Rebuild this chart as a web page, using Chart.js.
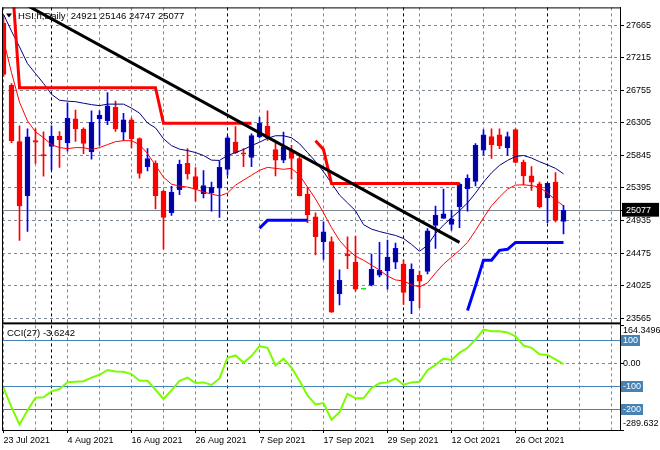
<!DOCTYPE html>
<html>
<head>
<meta charset="utf-8">
<title>HSI.h Daily</title>
<script src="https://cdn.jsdelivr.net/npm/chart.js@4.4.0/dist/chart.umd.min.js"></script>
<style>
  html, body { margin: 0; padding: 0; background: #fff; }
  canvas { display: block; }
</style>
</head>
<body>
<canvas id="chart" width="660" height="450"></canvas>
<script>
// bar 0 = 23 Jul 2021, bar 70 = 3 Nov 2021
const opens = [27693, 26823, 26036, 25277, 26050, 25857, 25971, 26115, 26018, 26354,
  26211, 25894, 26354, 26330, 26515, 26170, 26340, 26078, 25687, 25732,
  25342, 25042, 25364, 25732, 25549, 25308, 25318, 25387, 25649, 26032,
  25880, 25815, 26101, 26253, 25925, 25778, 25907, 25801, 25304, 24987,
  24638, 24638, 23906, 24466, 24352, 23975, 24030, 24168, 24228, 24352,
  24324, 23809, 24168, 24223, 24867, 24963, 24881, 25125, 25377, 25480,
  25916, 26109, 26133, 25949, 26206, 25746, 25557, 25447, 25249, 25470,
  24921];
const highs = [27803, 26850, 26257, 26215, 26215, 26174, 26257, 26178, 26579, 26478,
  26229, 26468, 26468, 26722, 26602, 26432, 26367, 26090, 25939, 25770,
  25355, 25411, 25778, 25939, 25673, 25632, 25470, 25764, 26115, 26247,
  25939, 26146, 26377, 26468, 26018, 26170, 25985, 25830, 25397, 25042,
  24914, 24707, 24245, 24707, 24711, 23975, 24466, 24628, 24660, 24618,
  24379, 24329, 24228, 24821, 25135, 25373, 25079, 25456, 25571, 26008,
  26202, 26215, 26215, 26170, 26215, 25778, 25687, 25470, 25456, 25604,
  25146];
const lows = [26947, 26022, 24655, 24780, 25732, 25553, 25640, 25677, 25902, 26040,
  25870, 25792, 25985, 26275, 26178, 26054, 25949, 25525, 25626, 25097,
  24535, 25005, 25295, 25511, 25204, 25249, 25065, 24977, 25567, 25870,
  25687, 25687, 26087, 26054, 25557, 25742, 25511, 25277, 24904, 24453,
  24389, 23648, 23754, 24259, 23947, 23975, 24020, 24145, 23975, 24259,
  23762, 23630, 23717, 24186, 24545, 24963, 24798, 24835, 25065, 25419,
  25847, 25801, 25939, 25839, 25742, 25433, 25355, 25111, 24904, 24914,
  24747];
const closes = [26975, 26050, 25139, 26105, 26029, 25836, 26115, 26064, 26363, 26215,
  26013, 26308, 26409, 26537, 26215, 26340, 26078, 25594, 25801, 25281,
  24977, 25332, 25718, 25585, 25373, 25424, 25397, 25677, 26091, 25884,
  25861, 26123, 26294, 26087, 25778, 25963, 25801, 25281, 25014, 24707,
  24776, 23652, 24099, 24439, 23975, 23975, 24251, 24237, 24421, 24545,
  23928, 24251, 24085, 24789, 25010, 25028, 24959, 25442, 25525, 25985,
  26133, 25995, 25981, 26109, 25746, 25557, 25470, 25125, 25456, 24936,
  25077];

// moving averages (red fast, navy slow)
const maFast = [27458, 27002, 26588, 26326, 26174, 26091, 25995, 25953, 25939, 25953,
  25953, 25926, 25953, 25995, 26036, 26050, 26050, 25995, 25870, 25705,
  25539, 25442, 25415, 25401, 25373, 25332, 25304, 25277, 25318, 25429,
  25498, 25567, 25636, 25677, 25663, 25650, 25663, 25567, 25401, 25235,
  25042, 24835, 24655, 24531, 24435, 24379, 24310, 24241, 24158, 24103,
  24089, 24034, 24007, 24062, 24200, 24324, 24421, 24517, 24628, 24794,
  24973, 25139, 25263, 25373, 25429, 25433, 25422, 25401, 25318, 25222,
  25139];
const maSlow = [27817, 27582, 27361, 27127, 26989, 26851, 26699, 26616, 26602, 26595,
  26574, 26554, 26540, 26561, 26561, 26561, 26505, 26436, 26298, 26229,
  26077, 25981, 25932, 25912, 25884, 25843, 25778, 25774, 25843, 25884,
  25926, 25981, 26029, 26084, 26119, 26119, 26091, 26008, 25884, 25760,
  25615, 25456, 25291, 25180, 25070, 24876, 24814, 24780, 24752, 24725,
  24683, 24600, 24504, 24587, 24752, 24870, 24973, 25070, 25180, 25318,
  25470, 25601, 25705, 25774, 25829, 25843, 25808, 25756, 25712, 25663,
  25587];

// trailing stop lines
const stopRed = [null, 28400, 26791, 26791, 26791, 26791, 26791, 26791, 26791, 26791,
  26791, 26791, 26791, 26791, 26791, 26791, 26791, 26791, 26791, 26791,
  26294, 26294, 26294, 26294, 26294, 26294, 26294, 26294, 26294, 26294,
  26294, 26294, null, null, null, null, null, null, null, 26050,
  25926, 25450, 25450, 25450, 25450, 25450, 25450, 25450, 25450, 25450,
  25450, 25450, 25450, 25450, 25450, 25450, 25450, 25450, null, null,
  null, null, null, null, null, null, null, null, null, null,
  null];
const stopBlue = [null, null, null, null, null, null, null, null, null, null,
  null, null, null, null, null, null, null, null, null, null,
  null, null, null, null, null, null, null, null, null, null,
  null, null, 24825, 24936, 24936, 24936, 24936, 24936, 24936, null,
  null, null, null, null, null, null, null, null, null, null,
  null, null, null, null, null, null, null, null, 23675, 24020,
  24380, 24380, 24517, 24531, 24628, 24628, 24628, 24628, 24628, 24628,
  24628];

// hand drawn trend line (two anchors)
const trendBars = [0, 57];
const trendPrices = [28122, 24628];

const cci = [-107, -190, -266, -205, -150, -148, -122, -112, -82, -80,
  -78, -62, -50, -29, -36, -37, -47, -76, -76, -115,
  -155, -118, -76, -62, -86, -83, -94, -66, 24, 34,
  3, 31, 74, 67, -9, 20, -19, -76, -140, -179,
  -173, -245, -212, -133, -152, -152, -107, -87, -83, -66,
  -93, -83, -80, -30, -7, 20, 14, 45, 67, 103,
  146, 139, 139, 134, 117, 77, 67, 39, 36, 17,
  -3.6242];

const dateLabels = ['23 Jul 2021', '4 Aug 2021', '16 Aug 2021', '26 Aug 2021', '7 Sep 2021',
  '17 Sep 2021', '29 Sep 2021', '12 Oct 2021', '26 Oct 2021'];
const labelBars = [0, 8, 16, 24, 32, 40, 48, 56, 64];
const monthStarts = [6, 28, 50, 68];
const priceTicks = [27665, 27215, 26755, 26305, 25845, 25395, 24935, 24475, 24025, 23565];
const cciTicks = [164.3496, 100, 0, -100, -200, -289.632];
const cciLevels = [100, -100, -200];

const last = closes.length - 1;
const lastClose = closes[last];

const FONT = 'Liberation Sans';
const GRID = '#7d8895';
const LEVEL = '#4682b4';
const UP_FILL = '#00009c', UP_EDGE = '#0000ff', DOWN = '#ff0000', FLAT = '#00e000';

const candleColor = opens.map((o, i) => closes[i] > o ? UP_EDGE : closes[i] < o ? DOWN : FLAT);
const bodyFill = opens.map((o, i) => closes[i] > o ? UP_FILL : closes[i] < o ? DOWN : FLAT);

const tickValue = ctx => (ctx.tick ? ctx.tick.value : NaN);
const series = arr => arr.map((v, i) => ({ x: i, y: v }));

// frame, window split, header and CCI scale texts
const decor = {
  id: 'decor',
  afterDraw(chart) {
    const { ctx, chartArea: a } = chart;
    const py = chart.scales.y, cy = chart.scales.y2;
    ctx.save();
    ctx.fillStyle = '#000';
    ctx.fillRect(a.left, a.top, 1, a.height);
    ctx.fillRect(a.left, a.top, a.width, 1);
    ctx.fillRect(a.left, py.bottom, a.width, 2);

    // header
    ctx.beginPath();
    ctx.moveTo(a.left + 4, a.top + 6);
    ctx.lineTo(a.left + 10, a.top + 6);
    ctx.lineTo(a.left + 7, a.top + 10);
    ctx.closePath();
    ctx.fill();
    ctx.font = '9.5px "' + FONT + '"';
    ctx.textBaseline = 'middle';
    ctx.textAlign = 'left';
    ctx.fillText('HSI.h,Daily  ' + [opens[last], highs[last], lows[last], closes[last]].join(' '), a.left + 16, a.top + 9);
    ctx.fillText('CCI(27) ' + cci[last].toFixed(4), a.left + 5, cy.top + 11);

    // CCI scale labels
    ctx.font = '9px "' + FONT + '"';
    cciTicks.forEach((v, k) => {
      let yy = cy.getPixelForValue(v);
      if (k === 0) yy = Math.max(yy, cy.top + 8);
      if (k === cciTicks.length - 1) yy = cy.bottom - 6;
      const txt = v === 0 ? '0.00' : String(v);
      const x = a.right + 3;
      if (cciLevels.includes(v)) {
        const w = ctx.measureText(txt).width;
        ctx.fillStyle = LEVEL;
        ctx.fillRect(a.right + 1, Math.round(yy) - 5, w + 4, 11);
        ctx.fillStyle = '#fff';
      } else {
        ctx.fillStyle = '#000';
      }
      ctx.fillText(txt, x, yy);
    });
    ctx.restore();
  }
};

new Chart(document.getElementById('chart'), {
  type: 'bar',
  data: {
    datasets: [
      { type: 'line', label: 'trend', data: trendBars.map((b, k) => ({ x: b, y: trendPrices[k] })),
        borderColor: '#000', borderWidth: 3, pointRadius: 0, yAxisID: 'y', order: 1 },
      { type: 'line', label: 'stop red', data: series(stopRed), borderColor: '#ff0000', borderWidth: 3,
        pointRadius: 0, spanGaps: false, yAxisID: 'y', order: 2 },
      { type: 'line', label: 'stop blue', data: series(stopBlue), borderColor: '#0000ff', borderWidth: 3,
        pointRadius: 0, spanGaps: false, yAxisID: 'y', order: 2 },
      { type: 'line', label: 'ma fast', data: series(maFast), borderColor: '#ff0000', borderWidth: 1,
        pointRadius: 0, yAxisID: 'y', order: 3 },
      { type: 'line', label: 'ma slow', data: series(maSlow), borderColor: '#000080', borderWidth: 1,
        pointRadius: 0, yAxisID: 'y', order: 3 },
      { type: 'bar', label: 'body', data: opens.map((o, i) => ({ x: i, y: [o, closes[i]] })),
        backgroundColor: bodyFill, borderColor: candleColor, borderWidth: 1, borderSkipped: false,
        barThickness: 5, minBarLength: 1, grouped: false, yAxisID: 'y', order: 5 },
      { type: 'bar', label: 'wick', data: lows.map((l, i) => ({ x: i, y: [l, highs[i]] })),
        backgroundColor: candleColor, barThickness: 1, grouped: false, yAxisID: 'y', order: 6 },
      { type: 'line', label: 'CCI(27)', data: series(cci), borderColor: '#7cfc00', borderWidth: 2,
        pointRadius: 0, yAxisID: 'y2', order: 1 }
    ]
  },
  options: {
    responsive: false,
    animation: false,
    events: [],
    layout: { padding: { left: 2, top: 2 } },
    plugins: { legend: { display: false }, tooltip: { enabled: false } },
    scales: {
      x: {
        type: 'linear', min: -0.1875, max: 77.0625, offset: false,
        afterBuildTicks: s => {
          const t = [];
          for (let b = 0; b <= 76; b += 4) t.push(b);
          monthStarts.forEach(b => { if (!t.includes(b)) t.push(b); });
          s.ticks = t.sort((p, q) => p - q).map(v => ({ value: v }));
        },
        afterFit: s => { s.height = 20; },
        grid: {
          offset: false, tickLength: 3,
          color: ctx => monthStarts.includes(tickValue(ctx)) ? '#000' : GRID,
          tickColor: ctx => labelBars.includes(tickValue(ctx)) ? '#000' : 'rgba(0,0,0,0)'
        },
        border: { color: '#000', dash: [3, 3] },
        ticks: {
          autoSkip: false, maxRotation: 0, align: 'start', padding: 2, color: '#000',
          font: { family: FONT, size: 9 },
          callback: v => { const k = labelBars.indexOf(v); return k >= 0 ? dateLabels[k] : ''; }
        }
      },
      y: {
        type: 'linear', position: 'right', stack: 'panes', stackWeight: 319,
        min: 23509.7, max: 27913.5, bounds: 'data',
        afterBuildTicks: s => { s.ticks = priceTicks.concat([lastClose]).map(v => ({ value: v })); },
        afterFit: s => { s.width = 40; },
        grid: { color: GRID, tickLength: 4, tickColor: '#000' },
        border: { color: '#000', dash: ctx => tickValue(ctx) === lastClose ? [] : [3, 3] },
        ticks: {
          autoSkip: false, padding: 2, font: { family: FONT, size: 9 },
          color: ctx => tickValue(ctx) === lastClose ? '#fff' : '#000',
          showLabelBackdrop: ctx => tickValue(ctx) === lastClose,
          backdropColor: '#000',
          backdropPadding: { top: 2, bottom: 1, left: 4, right: 8 },
          callback: v => String(v)
        }
      },
      y2: {
        type: 'linear', position: 'right', stack: 'panes', stackWeight: 109,
        min: -289.632, max: 177.5, bounds: 'data',
        afterBuildTicks: s => { s.ticks = cciTicks.map(v => ({ value: v })); },
        afterFit: s => { s.width = 40; },
        grid: {
          tickLength: 4, tickColor: '#000',
          color: ctx => {
            const v = tickValue(ctx);
            return v === 0 ? GRID : cciLevels.includes(v) ? LEVEL : 'rgba(0,0,0,0)';
          }
        },
        border: { color: '#000', dash: ctx => tickValue(ctx) === 0 ? [3, 3] : [] },
        ticks: { display: false }
      }
    }
  },
  plugins: [decor]
});
</script>
</body>
</html>
